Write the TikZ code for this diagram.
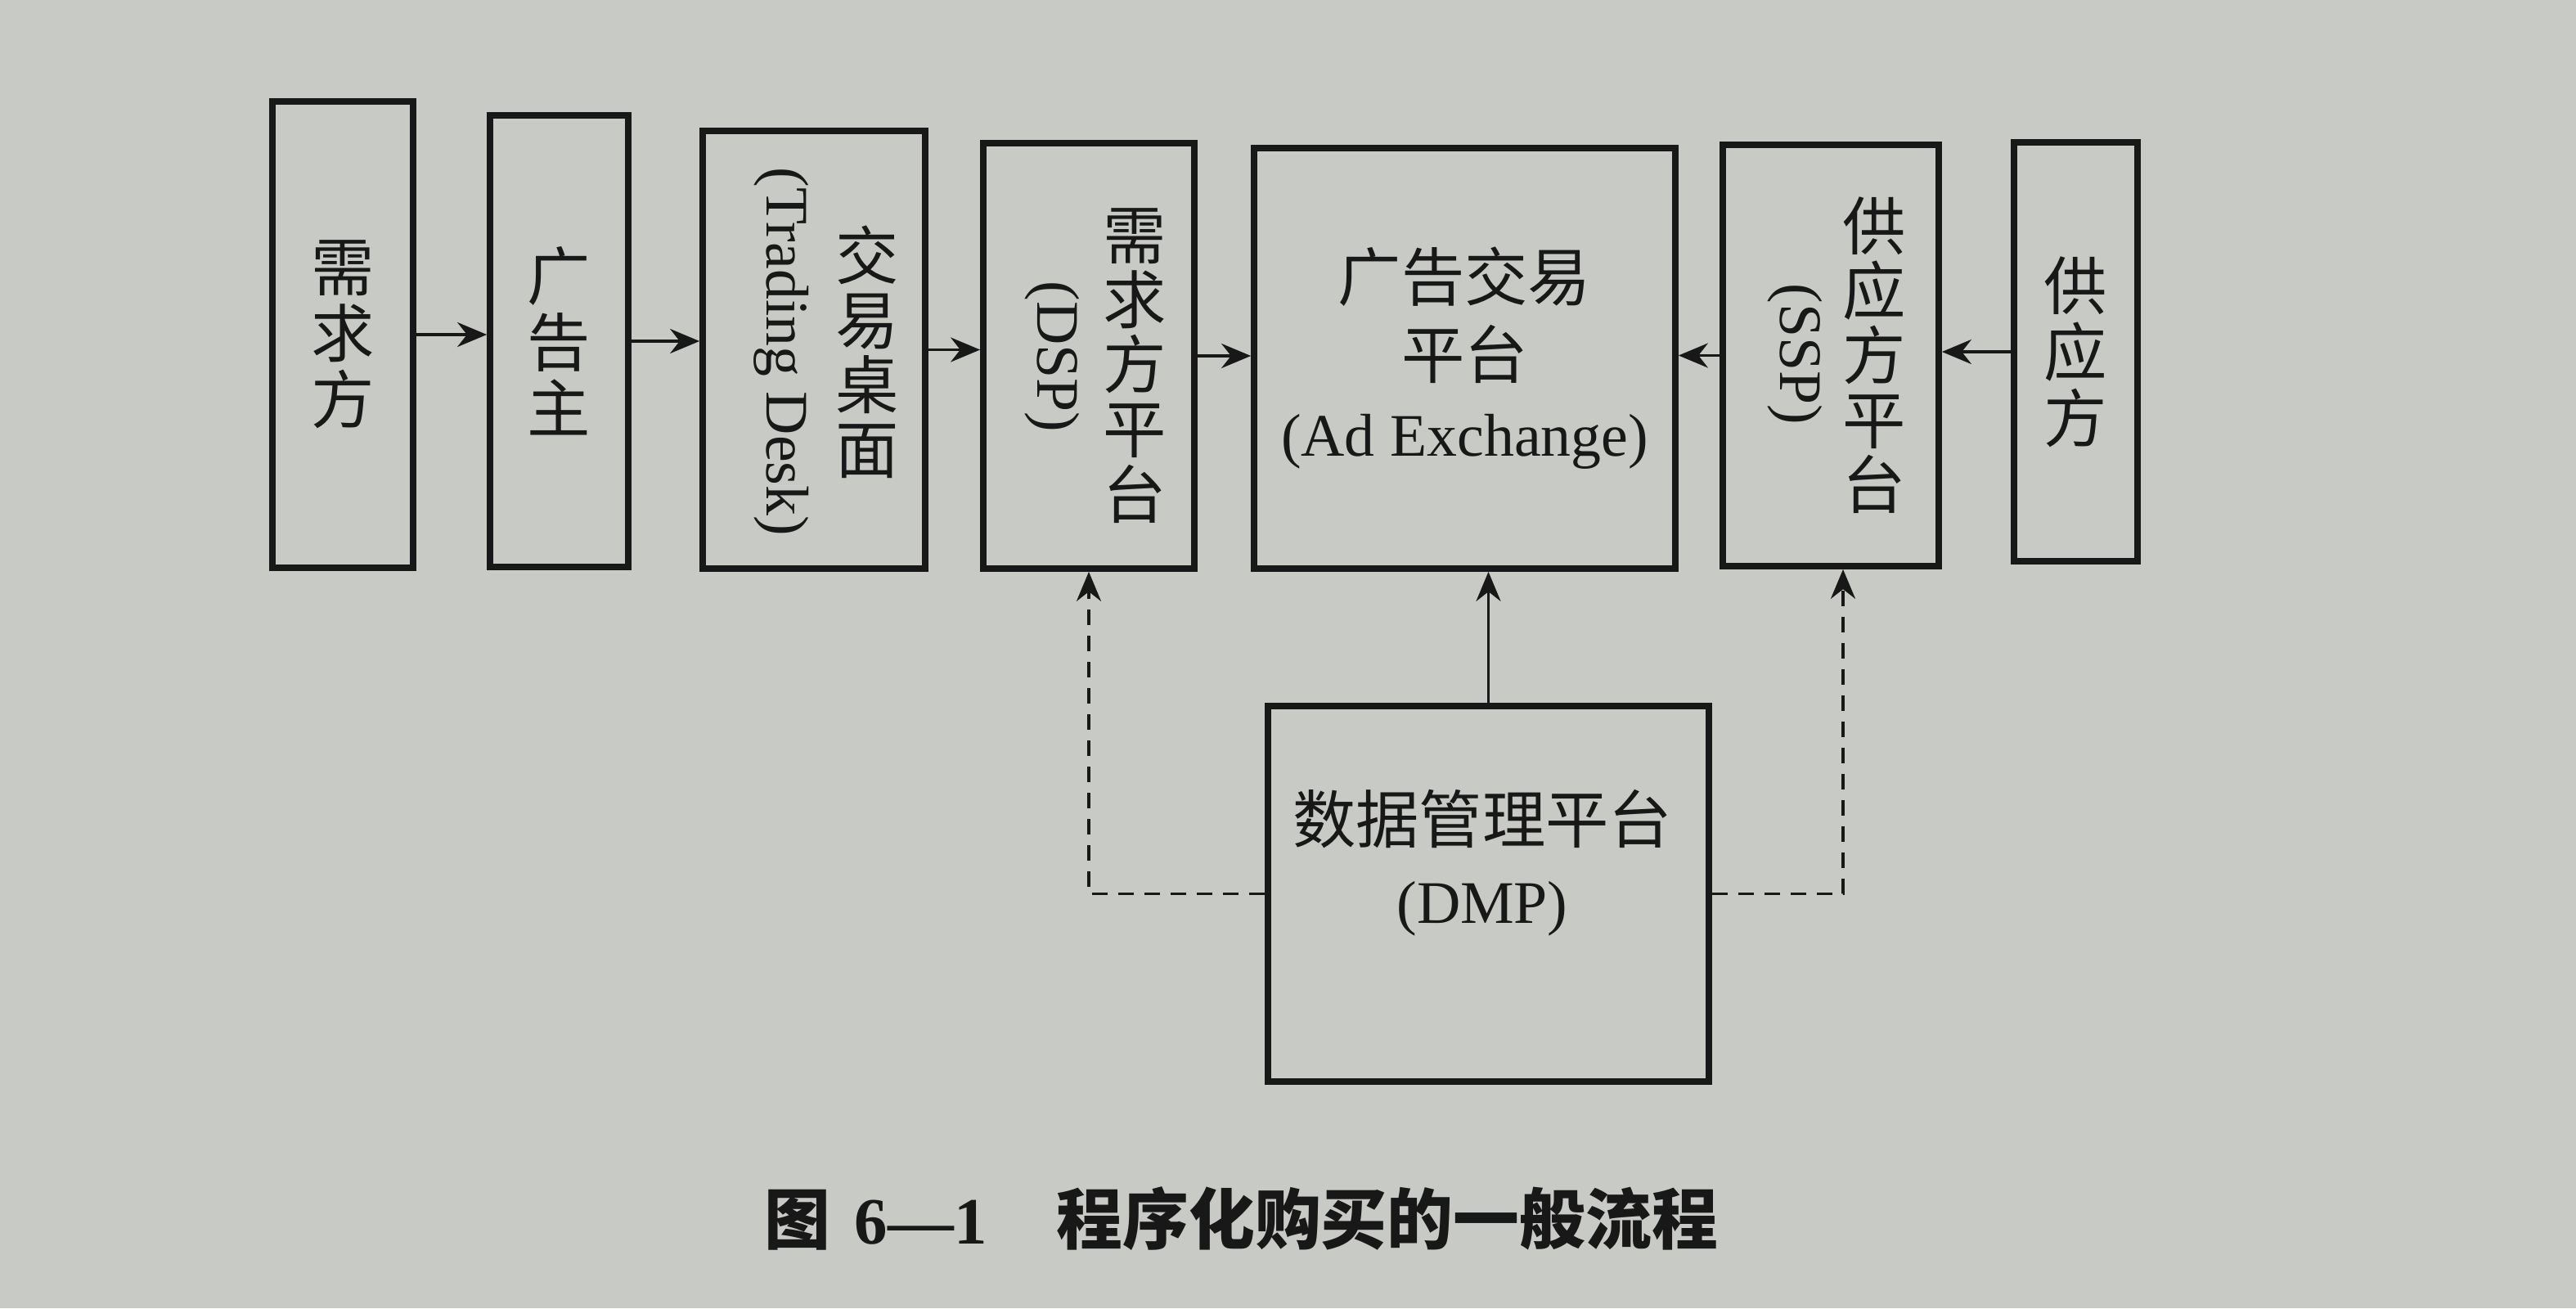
\documentclass[tikz,border=0pt]{standalone}
\usepackage{fontspec}
\setmainfont{Liberation Serif}
\newfontfamily\cjk{Noto Sans CJK SC}
\usetikzlibrary{arrows.meta}
\definecolor{paper}{RGB}{200,202,197}
\definecolor{ink}{RGB}{24,24,24}

\begin{document}
\begin{tikzpicture}[>={Stealth[length=3.6mm,width=3mm]},
  box/.style={draw=ink,line width=2.2pt,inner sep=0pt},
  zh/.style={font=\cjk\fontsize{22}{23}\selectfont,align=center,inner sep=0pt,text=ink},
  en/.style={font=\fontsize{21}{25}\selectfont,inner sep=0pt,text=ink,rotate=-90},
  link/.style={->,draw=ink,line width=1.1pt},
  dashlink/.style={link,dash pattern=on 5.4pt off 3.7pt}]
\fill[paper] (0,0) rectangle (31.49,-15.99);
\useasboundingbox (0,0) rectangle (31.49,-15.99);
\node[box,zh,minimum width=1.72cm,minimum height=5.70cm] (demand) at (4.19,-4.09) {需\\求\\方};
\node[box,zh,minimum width=1.69cm,minimum height=5.52cm] (adv) at (6.835,-4.17) {广\\告\\主};
\node[box,minimum width=2.72cm,minimum height=5.35cm] (desk) at (9.95,-4.275) {};
\node[box,minimum width=2.58cm,minimum height=5.20cm] (dsp) at (13.31,-4.35) {};
\node[box,zh,font=\cjk\fontsize{22}{27}\selectfont,minimum width=5.15cm,minimum height=5.14cm] (adx) at (17.905,-4.38)
  {广告交易\\平台\\{\rmfamily\fontsize{21}{27}\selectfont (Ad Exchange)}};
\node[box,minimum width=2.64cm,minimum height=5.15cm] (ssp) at (22.38,-4.345) {};
\node[box,zh,minimum width=1.51cm,minimum height=5.12cm] (supply) at (25.375,-4.30) {供\\应\\方};
\node[box,minimum width=5.39cm,minimum height=4.59cm] (dmp) at (18.195,-10.925) {};
\node[zh,font=\cjk\fontsize{22}{22.5}\selectfont] (deskzh) at (10.60,-4.30) {交\\易\\桌\\面};
\node[en] (desken) at (9.55,-4.30) {(Trading Desk)};
\node[zh,font=\cjk\fontsize{22}{22.5}\selectfont] (dspzh) at (13.87,-4.47) {需\\求\\方\\平\\台};
\node[en] (dspen) at (12.86,-4.36) {(DSP)};
\node[zh,font=\cjk\fontsize{22}{22.5}\selectfont] (sspzh) at (22.91,-4.34) {供\\应\\方\\平\\台};
\node[en] (sspen) at (21.94,-4.33) {(SSP)};
\node[zh,font=\cjk\fontsize{22}{28}\selectfont] (dmptext) at (18.12,-10.55)
  {数据管理平台\\{\rmfamily\fontsize{21}{28}\selectfont (DMP)}};
\draw[link] (demand.east) -- (demand.east -| adv.west);
\draw[link] (adv.east) -- (adv.east -| desk.west);
\draw[link] (desk.east) -- (desk.east -| dsp.west);
\draw[link] (dsp.east) -- (dsp.east -| adx.west);
\draw[link] (ssp.west) -- (ssp.west -| adx.east);
\draw[link] (supply.west) -- (supply.west -| ssp.east);
\draw[link] (dmp.north) -- (dmp.north |- adx.south);
\draw[dashlink] (dmp.west) -| (dsp.south);
\draw[dashlink] (dmp.east) -| ([xshift=1.5mm]ssp.south);
\node[text=ink,font=\cjk\bfseries\fontsize{23}{23}\selectfont] (caption) at (15.17,-14.90)
  {图\hspace{0.3cm}{\rmfamily\bfseries 6—1}\hspace{0.85cm}程序化购买的一般流程};
\end{tikzpicture}
\end{document}
